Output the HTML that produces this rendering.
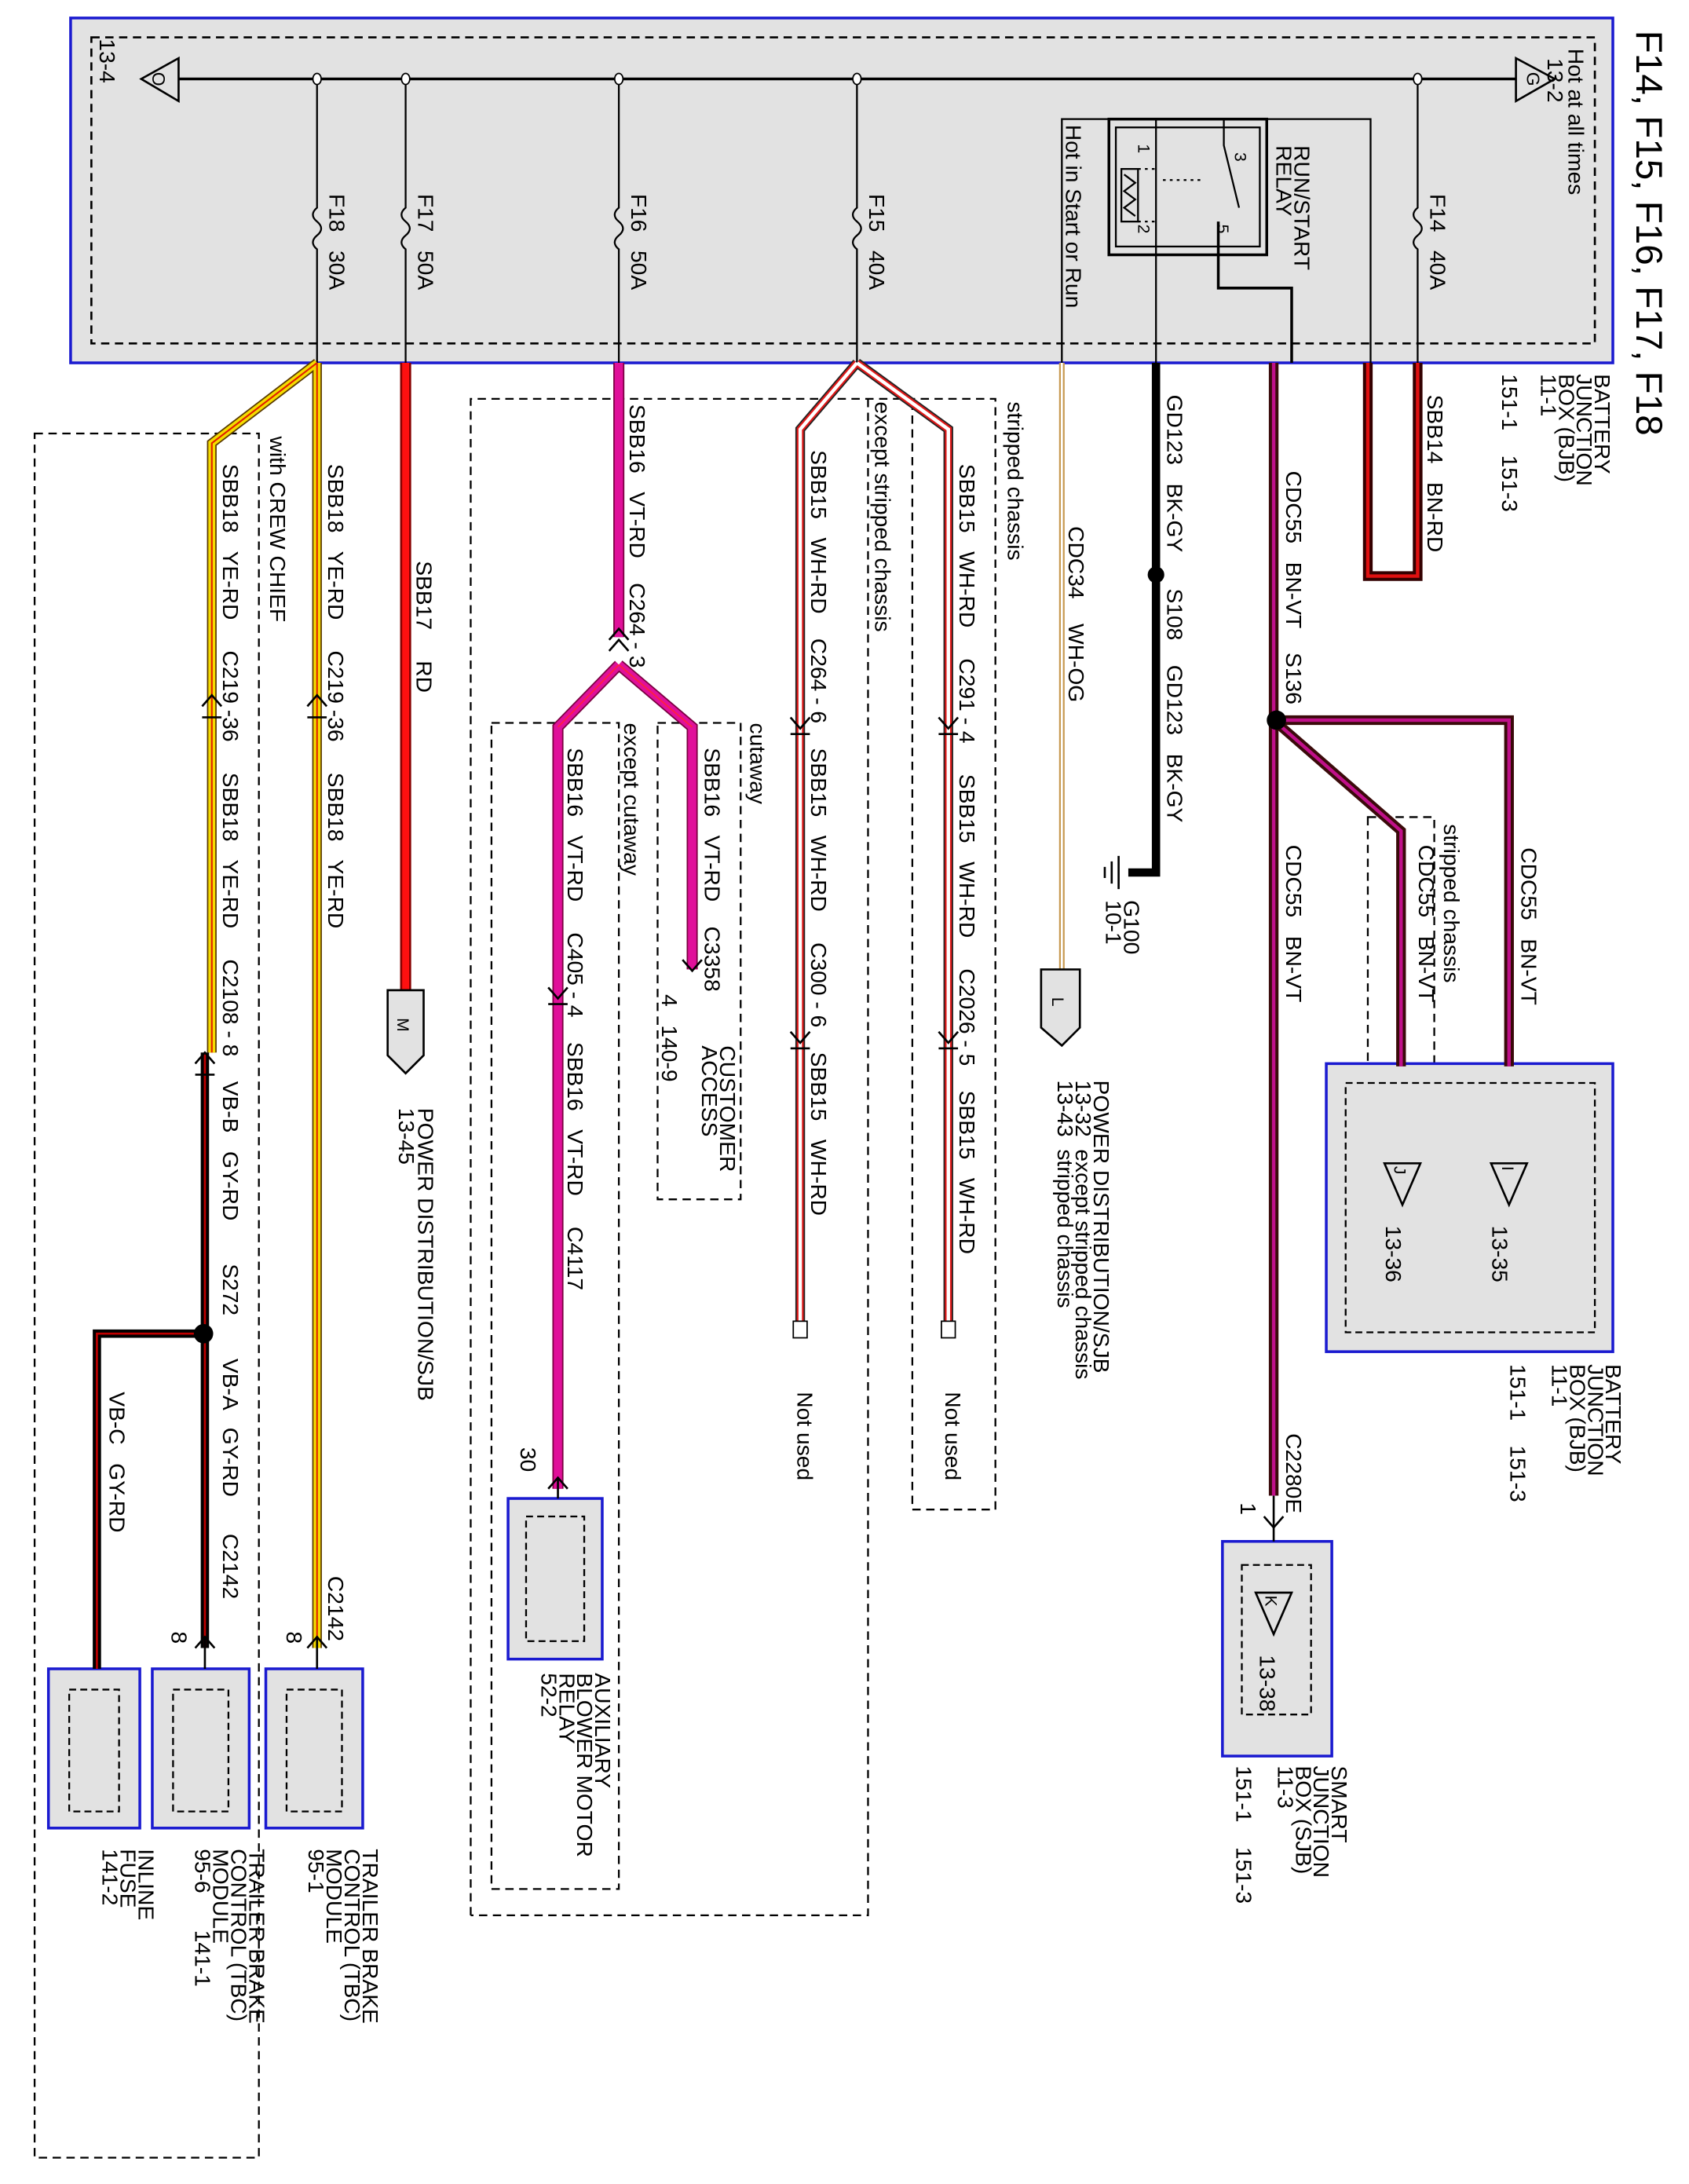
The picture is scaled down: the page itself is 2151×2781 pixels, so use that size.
<!DOCTYPE html>
<html><head><meta charset="utf-8"><style>
html,body{margin:0;padding:0;background:#fff}
svg{display:block}
text{font-family:"Liberation Sans",sans-serif;font-size:16px;fill:#000;white-space:pre}
</style></head><body>
<svg width="2151" height="2781" viewBox="0 0 1220 1577" preserveAspectRatio="none" xmlns="http://www.w3.org/2000/svg" xml:space="preserve">
<rect x="51" y="13" width="1114" height="249" fill="#e2e2e2" stroke="#1a1ad0" stroke-width="2"/>
<rect x="66" y="27" width="1086" height="221" fill="none" stroke="#000" stroke-width="1.5" stroke-dasharray="6,4"/>
<line x1="128" y1="57" x2="1095" y2="57" stroke="#000" stroke-width="2"/>
<polygon points="102,57 129,42 129,73" fill="#e2e2e2" stroke="#000" stroke-width="1.5"/>
<polygon points="1123,57 1095,42 1095,73" fill="#e2e2e2" stroke="#000" stroke-width="1.5"/>
<g stroke="#000" stroke-width="1.3" fill="none">
<path d="M229 57V150 q-6 5 0 10 q6 5 0 10 q-6 5 0 10 V262"/>
<path d="M293 57V150 q-6 5 0 10 q6 5 0 10 q-6 5 0 10 V262"/>
<path d="M447 57V150 q-6 5 0 10 q6 5 0 10 q-6 5 0 10 V262"/>
<path d="M619 57V150 q-6 5 0 10 q6 5 0 10 q-6 5 0 10 V262"/>
<path d="M1024 57V150 q-6 5 0 10 q6 5 0 10 q-6 5 0 10 V262"/>
<path d="M767 262V86H835V262"/>
<path d="M990 262V86H884V105 L895 150"/>
<path d="M880 160V208H933V262" stroke-width="2"/>
<rect x="801" y="86" width="114" height="98" stroke-width="2"/>
<rect x="806" y="92" width="104" height="86"/>
<rect x="810" y="122" width="12" height="38"/>
<path d="M822 122H835 M822 160H835 M840 130H870" stroke-dasharray="2,3"/>
<path d="M812 126l8 6-8 6 8 6-8 6 8 6"/>
</g>
<g fill="#fff" stroke="#000"><ellipse cx="229" cy="57" rx="3" ry="4"/><ellipse cx="293" cy="57" rx="3" ry="4"/><ellipse cx="447" cy="57" rx="3" ry="4"/><ellipse cx="619" cy="57" rx="3" ry="4"/><ellipse cx="1024" cy="57" rx="3" ry="4"/></g>

<g fill="none" stroke="#000" stroke-width="1.3" stroke-dasharray="6,4">
<rect x="25" y="313" width="162" height="1245"/>
<path d="M340 1383V288H719V1090H659V288 M627 288V1383H340"/>
<rect x="355" y="522" width="92" height="842"/>
<rect x="475" y="522" width="60" height="344"/>
<rect x="988" y="590" width="48" height="350"/>
</g>

<g fill="#e2e2e2" stroke="#1a1ad0" stroke-width="2">
<rect x="367" y="1082" width="68" height="116"/>
<rect x="35" y="1205" width="66" height="115"/>
<rect x="110" y="1205" width="70" height="115"/>
<rect x="192" y="1205" width="70" height="115"/>
<rect x="883" y="1113" width="79" height="155"/>
<rect x="958" y="768" width="207" height="208"/>
</g>
<g fill="none" stroke="#000" stroke-width="1.3" stroke-dasharray="5,3">
<rect x="380" y="1095" width="42" height="90"/>
<rect x="50" y="1220" width="36" height="88"/>
<rect x="125" y="1220" width="40" height="88"/>
<rect x="207" y="1220" width="40" height="88"/>
<rect x="897" y="1130" width="50" height="108"/>
<rect x="972" y="782" width="180" height="180"/>
</g>

<g fill="none" stroke-linejoin="miter">
<g stroke="#5a3a00" stroke-width="7"><path d="M229 262V1190"/><path d="M229 262L153 320V760"/></g>
<g stroke="#f5dc00" stroke-width="5"><path d="M229 262V1190"/><path d="M229 262L153 320V760"/></g>
<g stroke="#e02000" stroke-width="1.2"><path d="M229 262V1190"/><path d="M229 262L153 320V760"/></g>
<g stroke="#000" stroke-width="6"><path d="M148 760V1190"/><path d="M148 963H70V1205"/></g>
<g stroke="#c00000" stroke-width="1.5"><path d="M148 760V1190"/><path d="M148 963H70V1205"/></g>
<path d="M293 262V715" stroke="#800" stroke-width="8"/>
<path d="M293 262V715" stroke="#ff1010" stroke-width="5"/>
<g stroke="#7a0040" stroke-width="8"><path d="M447 262V460"/><path d="M447 480L403 525V1075"/><path d="M447 480L500 525V700"/></g>
<g stroke="#e0109a" stroke-width="6"><path d="M447 262V460"/><path d="M447 480L403 525V1075"/><path d="M447 480L500 525V700"/></g>
<g stroke="#ff2040" stroke-width="1"><path d="M447 480L403 525"/><path d="M447 480L500 525"/></g>
<g stroke="#222" stroke-width="7"><path d="M619 262L578 310V958"/><path d="M619 262L685 310V958"/></g>
<g stroke="#e01818" stroke-width="5"><path d="M619 262L578 310V958"/><path d="M619 262L685 310V958"/></g>
<g stroke="#fff" stroke-width="2.5"><path d="M619 262L578 310V958"/><path d="M619 262L685 310V958"/></g>
<path d="M767 262V700" stroke="#c89a50" stroke-width="4"/>
<path d="M767 262V700" stroke="#fff" stroke-width="1.5"/>
<path d="M835 262V630H815" stroke="#000" stroke-width="6"/>
<g stroke="#3a0a0a" stroke-width="7"><path d="M920 262V1080"/><path d="M920 520H1090V770"/><path d="M920 520L1012 600V770"/></g>
<g stroke="#c0108a" stroke-width="2.5"><path d="M920 262V1080"/><path d="M920 520H1090V770"/><path d="M920 520L1012 600V770"/></g>
<path d="M1024 262V416H988V262" stroke="#300" stroke-width="7"/>
<path d="M1024 262V416H988V262" stroke="#e01010" stroke-width="2.5"/>
</g>
<g fill="#000"><circle cx="835" cy="415" r="6"/><circle cx="922" cy="520" r="7"/><circle cx="147" cy="963" r="7"/></g>
<g stroke="#000" stroke-width="1.5"><path d="M808 618V642 M803 622V638 M798 626V634"/></g>
<g fill="#fff" stroke="#000"><rect x="573" y="954" width="10" height="12"/><rect x="680" y="954" width="10" height="12"/></g>
<g fill="none" stroke="#000" stroke-width="1.5">
<path d="M440 470l7-8 7 8 M440 462l7-8 7 8"/>
<path d="M146 510l7-8 7 8 M146 518h14"/><path d="M222 510l7-8 7 8 M222 518h14"/>
<path d="M141 768l7-8 7 8 M141 776h14"/>
<path d="M571 518l7 8 7-8 M571 530h14"/><path d="M678 518l7 8 7-8 M678 530h14"/>
<path d="M396 713l7 8 7-8 M396 725h14"/>
<path d="M571 745l7 8 7-8 M571 757h14"/><path d="M678 745l7 8 7-8 M678 757h14"/>
<path d="M493 693l7 8 7-8"/>
<path d="M396 1075l7-8 7 8"/>
<path d="M141 1190l7-8 7 8"/><path d="M222 1190l7-8 7 8"/>
<path d="M913 1095l7 8 7-8"/><path d="M920 1080V1113"/>
<path d="M403 1068V1082"/><path d="M148 1182V1205"/><path d="M229 1182V1205"/>
</g>
<polygon points="280,715 306,715 306,762 293,775 280,762" fill="#e2e2e2" stroke="#000" stroke-width="1.5"/>
<polygon points="752,700 780,700 780,742 767,755 752,742" fill="#e2e2e2" stroke="#000" stroke-width="1.5"/>
<g fill="#e2e2e2" stroke="#000" stroke-width="1.5">
<polygon points="1000,840 1026,840 1013,870"/><polygon points="1077,840 1103,840 1090,870"/><polygon points="907,1150 933,1150 920,1180"/>
</g>

<g>
<text transform="translate(1182,22) rotate(90)" style="font-size:27px">F14, F15, F16, F17, F18</text>
<text transform="translate(1133,35) rotate(90)">Hot at all times</text>
<text transform="translate(1118,42) rotate(90)">13-2</text>
<text transform="translate(1103,52) rotate(90)" style="font-size:13px">G</text>
<text transform="translate(110,52) rotate(90)" style="font-size:13px">O</text>
<text transform="translate(72,28) rotate(90)">13-4</text>
<text transform="translate(238,140) rotate(90)">F18   30A</text>
<text transform="translate(302,140) rotate(90)">F17   50A</text>
<text transform="translate(456,140) rotate(90)">F16   50A</text>
<text transform="translate(628,140) rotate(90)">F15   40A</text>
<text transform="translate(1033,140) rotate(90)">F14   40A</text>
<text transform="translate(935,105) rotate(90)">RUN/START</text>
<text transform="translate(922,105) rotate(90)">RELAY</text>
<text transform="translate(892,110) rotate(90)" style="font-size:12px">3</text>
<text transform="translate(879,162) rotate(90)" style="font-size:12px">5</text>
<text transform="translate(822,104) rotate(90)" style="font-size:12px">1</text>
<text transform="translate(822,162) rotate(90)" style="font-size:12px">2</text>
<text transform="translate(770,90) rotate(90)">Hot in Start or Run</text>
<text transform="translate(1152,270) rotate(90)">BATTERY</text>
<text transform="translate(1139,270) rotate(90)">JUNCTION</text>
<text transform="translate(1126,270) rotate(90)">BOX (BJB)</text>
<text transform="translate(1113,270) rotate(90)">11-1</text>
<text transform="translate(1085,270) rotate(90)">151-1    151-3</text>
<text transform="translate(1031,285) rotate(90)">SBB14   BN-RD</text>
<text transform="translate(929,340) rotate(90)">CDC55   BN-VT    S136</text>
<text transform="translate(843,285) rotate(90)">GD123   BK-GY</text>
<text transform="translate(843,425) rotate(90)">S108    GD123   BK-GY</text>
<text transform="translate(772,380) rotate(90)">CDC34    WH-OG</text>
<text transform="translate(728,290) rotate(90)">stripped chassis</text>
<text transform="translate(693,335) rotate(90)">SBB15   WH-RD     C291 - 4     SBB15   WH-RD     C2026 - 5    SBB15   WH-RD</text>
<text transform="translate(632,290) rotate(90)">except stripped chassis</text>
<text transform="translate(586,325) rotate(90)">SBB15   WH-RD    C264 - 6    SBB15   WH-RD     C300 - 6    SBB15   WH-RD</text>
<text transform="translate(683,1005) rotate(90)">Not used</text>
<text transform="translate(576,1005) rotate(90)">Not used</text>
<text transform="translate(455,292) rotate(90)">SBB16   VT-RD    C264 - 3</text>
<text transform="translate(542,522) rotate(90)">cutaway</text>
<text transform="translate(509,540) rotate(90)">SBB16   VT-RD    C3358</text>
<text transform="translate(478,718) rotate(90)">4   140-9</text>
<text transform="translate(520,755) rotate(90)">CUSTOMER</text>
<text transform="translate(507,755) rotate(90)">ACCESS</text>
<text transform="translate(451,522) rotate(90)">except cutaway</text>
<text transform="translate(410,540) rotate(90)">SBB16   VT-RD     C405 - 4    SBB16   VT-RD     C4117</text>
<text transform="translate(376,1045) rotate(90)">30</text>
<text transform="translate(430,1208) rotate(90)">AUXILIARY</text>
<text transform="translate(417,1208) rotate(90)">BLOWER MOTOR</text>
<text transform="translate(404,1208) rotate(90)">RELAY</text>
<text transform="translate(391,1208) rotate(90)">52-2</text>
<text transform="translate(301,405) rotate(90)">SBB17     RD</text>
<text transform="translate(287,735) rotate(90)" style="font-size:12px">M</text>
<text transform="translate(302,800) rotate(90)">POWER DISTRIBUTION/SJB</text>
<text transform="translate(288,800) rotate(90)">13-45</text>
<text transform="translate(237,335) rotate(90)">SBB18   YE-RD     C219 -36     SBB18   YE-RD</text>
<text transform="translate(237,1138) rotate(90)">C2142</text>
<text transform="translate(207,1178) rotate(90)">8</text>
<text transform="translate(195,315) rotate(90)">with CREW CHIEF</text>
<text transform="translate(161,335) rotate(90)">SBB18   YE-RD     C219 -36     SBB18   YE-RD     C2108 - 8    VB-B   GY-RD       S272       VB-A   GY-RD      C2142</text>
<text transform="translate(124,1178) rotate(90)">8</text>
<text transform="translate(79,1005) rotate(90)">VB-C   GY-RD</text>
<text transform="translate(262,1335) rotate(90)">TRAILER BRAKE</text>
<text transform="translate(249,1335) rotate(90)">CONTROL (TBC)</text>
<text transform="translate(236,1335) rotate(90)">MODULE</text>
<text transform="translate(223,1335) rotate(90)">95-1</text>
<text transform="translate(180,1335) rotate(90)">TRAILER BRAKE</text>
<text transform="translate(167,1335) rotate(90)">CONTROL (TBC)</text>
<text transform="translate(154,1335) rotate(90)">MODULE</text>
<text transform="translate(141,1335) rotate(90)">95-6      141-1</text>
<text transform="translate(100,1335) rotate(90)">INLINE</text>
<text transform="translate(87,1335) rotate(90)">FUSE</text>
<text transform="translate(74,1335) rotate(90)">141-2</text>
<text transform="translate(812,650) rotate(90)">G100</text>
<text transform="translate(799,650) rotate(90)">10-1</text>
<text transform="translate(760,720) rotate(90)" style="font-size:12px">L</text>
<text transform="translate(790,780) rotate(90)">POWER DISTRIBUTION/SJB</text>
<text transform="translate(777,780) rotate(90)">13-32  except stripped chassis</text>
<text transform="translate(764,780) rotate(90)">13-43  stripped chassis</text>
<text transform="translate(1099,612) rotate(90)">CDC55   BN-VT</text>
<text transform="translate(1043,595) rotate(90)">stripped chassis</text>
<text transform="translate(1025,610) rotate(90)">CDC55   BN-VT</text>
<text transform="translate(929,610) rotate(90)">CDC55   BN-VT</text>
<text transform="translate(1007,842) rotate(90)" style="font-size:12px">J</text>
<text transform="translate(1085,842) rotate(90)" style="font-size:12px">I</text>
<text transform="translate(1001,885) rotate(90)">13-36</text>
<text transform="translate(1078,885) rotate(90)">13-35</text>
<text transform="translate(1160,985) rotate(90)">BATTERY</text>
<text transform="translate(1147,985) rotate(90)">JUNCTION</text>
<text transform="translate(1134,985) rotate(90)">BOX (BJB)</text>
<text transform="translate(1121,985) rotate(90)">11-1</text>
<text transform="translate(1091,985) rotate(90)">151-1    151-3</text>
<text transform="translate(929,1035) rotate(90)">C2280E</text>
<text transform="translate(896,1085) rotate(90)">1</text>
<text transform="translate(914,1152) rotate(90)" style="font-size:12px">K</text>
<text transform="translate(910,1195) rotate(90)">13-38</text>
<text transform="translate(962,1275) rotate(90)">SMART</text>
<text transform="translate(949,1275) rotate(90)">JUNCTION</text>
<text transform="translate(936,1275) rotate(90)">BOX (SJB)</text>
<text transform="translate(923,1275) rotate(90)">11-3</text>
<text transform="translate(893,1275) rotate(90)">151-1    151-3</text>
</g>
</svg>
</body></html>
